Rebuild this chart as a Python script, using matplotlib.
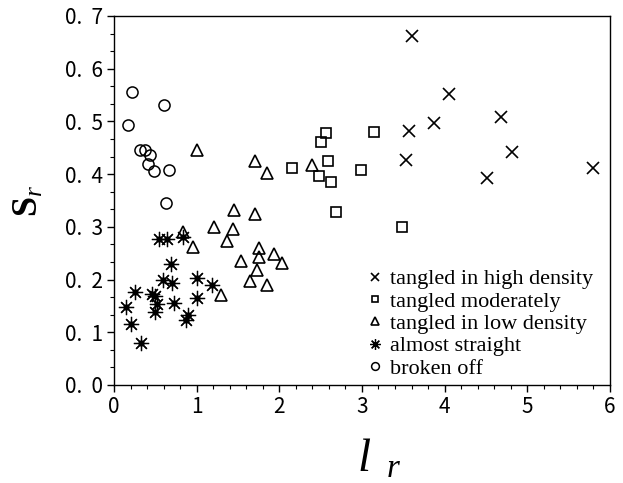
import matplotlib
matplotlib.use('Agg')
import matplotlib.pyplot as plt
from matplotlib.ticker import MultipleLocator, FuncFormatter

# --- Data ---
high_x = [3.61, 4.05, 4.68, 3.87, 3.57, 4.82, 3.53, 4.51, 5.79]
high_y = [0.661, 0.552, 0.509, 0.497, 0.482, 0.441, 0.427, 0.393, 0.411]

moderate_x = [2.57, 2.50, 3.14, 2.15, 2.59, 2.48, 2.63, 2.99, 2.68, 3.49]
moderate_y = [0.477, 0.460, 0.479, 0.412, 0.425, 0.397, 0.385, 0.407, 0.329, 0.299]

low_x = [1.00, 1.70, 1.85, 2.40, 1.45, 1.71, 1.21, 1.44, 0.83, 1.37, 0.95,
         1.76, 1.93, 1.76, 1.54, 2.03, 1.73, 1.64, 1.85, 1.29]
low_y = [0.446, 0.424, 0.403, 0.417, 0.332, 0.324, 0.300, 0.295, 0.291, 0.274,
         0.261, 0.259, 0.248, 0.242, 0.235, 0.231, 0.218, 0.197, 0.190, 0.171]

straight_x = [0.54, 0.64, 0.84, 0.69, 0.59, 0.70, 1.01, 1.18, 0.25, 0.46,
              0.49, 0.52, 0.72, 1.01, 0.15, 0.49, 0.89, 0.87, 0.21, 0.33]
straight_y = [0.276, 0.276, 0.280, 0.230, 0.200, 0.193, 0.202, 0.189, 0.176, 0.172,
              0.168, 0.153, 0.156, 0.164, 0.148, 0.139, 0.132, 0.123, 0.116, 0.079]

broken_x = [0.22, 0.60, 0.17, 0.31, 0.37, 0.44, 0.41, 0.48, 0.665, 0.63]
broken_y = [0.555, 0.532, 0.493, 0.445, 0.445, 0.436, 0.419, 0.406, 0.408, 0.345]

labels = ['tangled in high density', 'tangled moderately',
          'tangled in low density', 'almost straight', 'broken off']

# --- Style ---
plt.rcParams['mathtext.fontset'] = 'custom'
plt.rcParams['mathtext.rm'] = 'Liberation Serif'
plt.rcParams['mathtext.it'] = 'Liberation Serif:italic'
plt.rcParams['mathtext.bf'] = 'Liberation Serif:bold'

fig = plt.figure(figsize=(6.23, 4.83), dpi=100)
ax = fig.add_axes([0.183, 0.203, 0.796, 0.764])

mk = dict(color='black', linestyle='none', markerfacecolor='none')
ax.plot(high_x, high_y, marker='x', markersize=9, markeredgewidth=1.2,
        label=labels[0], **mk)
ax.plot(moderate_x, moderate_y, marker='s', markersize=7, markeredgewidth=1.2,
        label=labels[1], **mk)
ax.plot(low_x, low_y, marker='^', markersize=8, markeredgewidth=1.2,
        label=labels[2], **mk)
ax.plot(straight_x, straight_y, marker=(8, 2, 0), markersize=11,
        markeredgewidth=0.9, label=labels[3], **mk)
# dark core of the asterisks
ax.plot(straight_x, straight_y, marker='o', markersize=3.5, color='black',
        linestyle='none')
ax.plot(broken_x, broken_y, marker='o', markersize=8, markeredgewidth=1.1,
        label=labels[4], **mk)

ax.set_xlim(0, 6)
ax.set_ylim(0, 0.7)
ax.xaxis.set_major_locator(MultipleLocator(1))
ax.xaxis.set_minor_locator(MultipleLocator(0.2))
ax.yaxis.set_major_locator(MultipleLocator(0.1))
ax.yaxis.set_minor_locator(MultipleLocator(0.1 / 3))
ax.yaxis.set_major_formatter(FuncFormatter(lambda v, p: f'{v:.1f}'.replace('.', '.  ')))

ax.tick_params(which='major', direction='out', length=5, width=1,
               labelsize=15, pad=3)
ax.tick_params(which='minor', direction='out', length=3, width=0.8)
for lab in ax.get_xticklabels() + ax.get_yticklabels():
    lab.set_family('Noto Sans CJK JP')
for s in ax.spines.values():
    s.set_linewidth(1.0)

ax.set_xlabel(r'$\mathit{l}_{\ \ \mathit{r}}$', fontsize=34)
ax.xaxis.set_label_coords(0.535, -0.14, transform=ax.transAxes)
ax.xaxis.label.set_va('top')
ax.set_ylabel(r'$\mathbf{S}_{\mathit{r}}$', fontsize=26, labelpad=14)

leg = ax.legend(loc='lower right', bbox_to_anchor=(0.997, -0.025), frameon=False,
                prop={'family': 'Liberation Serif', 'size': 16},
                handlelength=0.5, handletextpad=0.4, labelspacing=0.08,
                markerscale=0.7, borderaxespad=0.3)

fig.savefig('out.png', dpi=100)
